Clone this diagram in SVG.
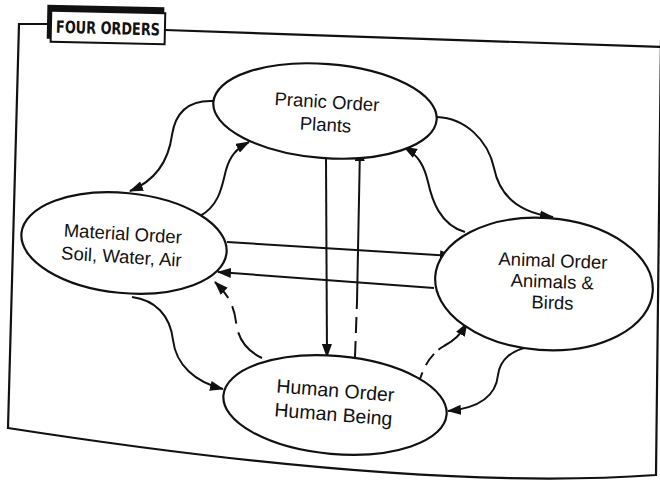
<svg xmlns="http://www.w3.org/2000/svg" width="660" height="484" viewBox="0 0 660 484">
<style>
.frame{fill:none;stroke:#111;stroke-width:2.2}
.node ellipse{fill:#fff;stroke:#111;stroke-width:2.2}
.lbl{font-family:"Liberation Sans",Arial,sans-serif;font-size:18.5px;fill:#111;text-anchor:middle}
.c{fill:none;stroke:#111;stroke-width:2}
.a{marker-end:url(#arr)}
.d{stroke-dasharray:16 8}
.title{font-family:"DejaVu Sans Condensed","DejaVu Sans",sans-serif;font-weight:bold;font-size:17px;fill:#111}
</style>
<defs>
<marker id="arr" markerUnits="userSpaceOnUse" markerWidth="14" markerHeight="10" refX="13" refY="5" orient="auto">
<path d="M0,0 L14,5 L0,10 Z" fill="#111"/>
</marker>
</defs>
<rect width="660" height="484" fill="#fff"/>
<g id="frame">
<path class="frame" d="M48,24 L19,24 L8,428 Q420,492 656,475 L661,40"/>
<path class="frame" d="M165,30 L661,47"/>
<g id="title">
<rect x="47" y="6" width="117" height="34" fill="#111" transform="rotate(1.2 106 25)"/>
<rect x="51" y="12" width="114" height="31" fill="#fff" stroke="#111" stroke-width="2" transform="rotate(1.2 106 25)"/>
<text class="title" x="56" y="34" textLength="104" lengthAdjust="spacingAndGlyphs" transform="rotate(1.5 106 28)">FOUR ORDERS</text>
</g>
</g>
<g id="connectors">
<path class="c a" d="M213,101 C186,100 175,115 172,135 C168,165 152,182 130,191"/>
<path class="c a" d="M200,216 C220,205 222,185 226,170 C230,156 236,149 249,142"/>
<path class="c a" d="M437,117 C465,118 488,140 494,168 C500,198 522,213 553,217"/>
<path class="c a" d="M465,232 C440,225 432,200 428,182 C424,165 418,155 404,147"/>
<path class="c a" d="M227,242 L453,256"/>
<path class="c a" d="M434,288 L218,272"/>
<path class="c a" d="M326,158 L327,357"/>
<path class="c d" d="M355,357 L357,302"/>
<path class="c a" d="M357,302 L360,148"/>
<path class="c a" d="M262,358 C245,350 238,338 236,322 C234,305 228,295 215,282" stroke-dasharray="36 9 18 9 100"/>
<path class="c a" d="M132,297 C155,300 170,315 173,340 C176,365 195,382 223,389"/>
<path class="c a" d="M420,379 C425,364 432,353 444,346 C455,340 460,335 467,323" stroke-dasharray="7 8 14 6 40"/>
<path class="c a" d="M535,345 C510,350 500,360 498,375 C496,395 480,408 448,411"/>
</g>
<g id="pranic" class="node">
<ellipse cx="325" cy="111" rx="112" ry="47" transform="rotate(4.5 325 111)"/>
<g transform="rotate(3.5 325 117)">
<text class="lbl" x="326" y="108">Pranic Order</text>
<text class="lbl" x="326" y="131">Plants</text>
</g>
</g>
<g id="material" class="node">
<ellipse cx="124" cy="243" rx="103" ry="50" transform="rotate(5.5 124 243)"/>
<g transform="rotate(3.5 122 248)">
<text class="lbl" x="122" y="240">Material Order</text>
<text class="lbl" x="122" y="263">Soil, Water, Air</text>
</g>
</g>
<g id="animal" class="node">
<ellipse cx="544" cy="284" rx="109" ry="66" transform="rotate(4 544 284)"/>
<g transform="rotate(2 552 288)">
<text class="lbl" x="552" y="267">Animal Order</text>
<text class="lbl" x="552" y="288">Animals &amp;</text>
<text class="lbl" x="553" y="309">Birds</text>
</g>
</g>
<g id="human" class="node">
<ellipse cx="335" cy="405" rx="112" ry="49" transform="rotate(5 335 405)"/>
<g transform="rotate(4.5 334 408)">
<text class="lbl" x="334" y="397" style="font-size:19.5px">Human Order</text>
<text class="lbl" x="334" y="421" style="font-size:19.5px">Human Being</text>
</g>
</g>
</svg>
